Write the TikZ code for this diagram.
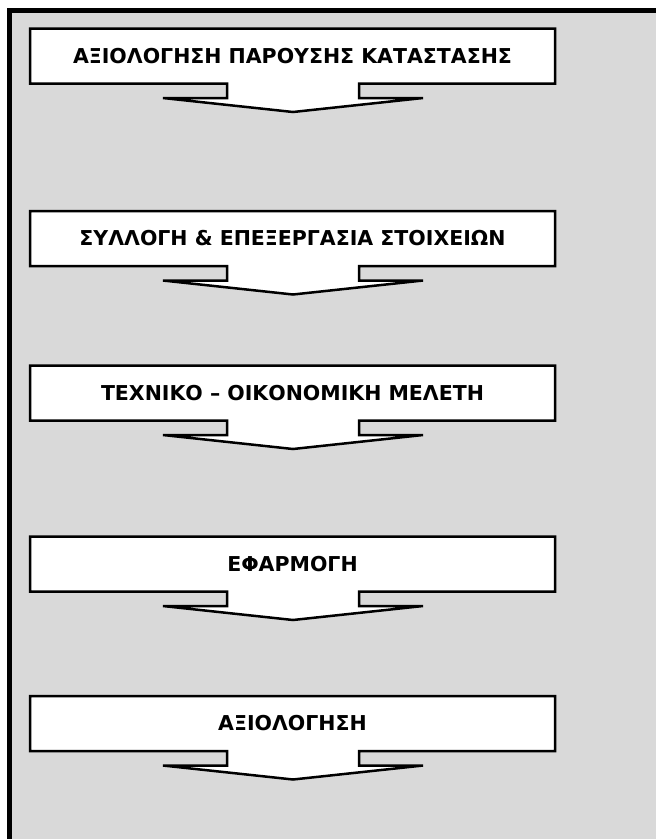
\documentclass[tikz,border=0pt]{standalone}
\usepackage{fontspec}
\newfontfamily\stepfont{DejaVu Sans}[BoldFont={DejaVu Sans Bold}]
\usepackage{tikz}

\definecolor{panel}{HTML}{D9D9D9}

\tikzset{
  callout/.style={draw, line width=2.5pt, fill=white, line join=miter},
  steptext/.style={font=\stepfont\bfseries\fontsize{20.5}{24}\selectfont, inner sep=0pt}
}

% box top in px, name, text
\newcommand\stepcallout[3]{%
  \draw[callout] (30,#1) -- (555,#1) -- (555,#1+55) -- (359,#1+55) -- (359,#1+69.5)
    -- (423,#1+69.5) -- (293,#1+83.5) -- (163,#1+69.5) -- (227,#1+69.5) -- (227,#1+55)
    -- (30,#1+55) -- cycle;
  \node[steptext] (#2) at (292.5,#1+27.5) {#3};
}

\begin{document}
\begin{tikzpicture}[x=1pt,y=-1pt]
    \useasboundingbox (0,0) rectangle (656,839);
    \fill[panel] (9.5,10.5) rectangle (656,839);
    \draw[line width=5pt] (9.5,839) -- (9.5,10.5) -- (656,10.5);

    \stepcallout{28.5}{eval}{ΑΞΙΟΛΟΓΗΣΗ ΠΑΡΟΥΣΗΣ ΚΑΤΑΣΤΑΣΗΣ}
    \stepcallout{211}{data}{ΣΥΛΛΟΓΗ \& ΕΠΕΞΕΡΓΑΣΙΑ ΣΤΟΙΧΕΙΩΝ}
    \stepcallout{365.5}{study}{ΤΕΧΝΙΚΟ – ΟΙΚΟΝΟΜΙΚΗ ΜΕΛΕΤΗ}
    \stepcallout{536.5}{apply}{ΕΦΑΡΜΟΓΗ}
    \stepcallout{696}{review}{ΑΞΙΟΛΟΓΗΣΗ}
\end{tikzpicture}
\end{document}
